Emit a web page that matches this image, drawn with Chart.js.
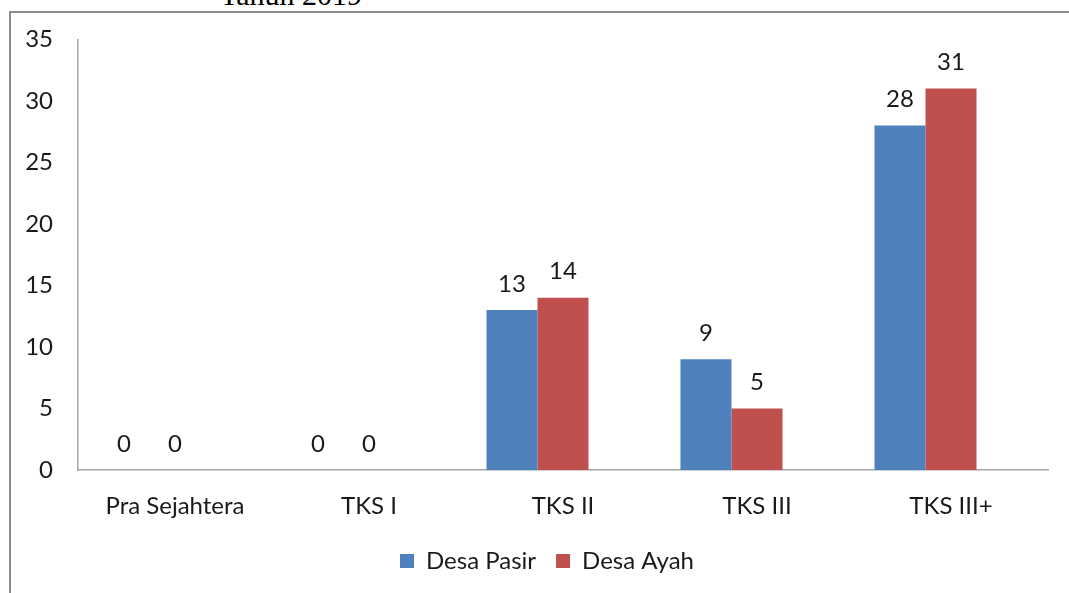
<!DOCTYPE html>
<html>
<head>
<meta charset="utf-8">
<script src="https://cdn.jsdelivr.net/npm/chart.js@4.4.1/dist/chart.umd.min.js"></script>
<style>
    html, body { margin:0; padding:0; background:#fff; overflow:hidden; }
    #wrap { position:relative; width:1069px; height:593px; }
    #frame { position:absolute; left:9px; top:11px; width:1100px; height:640px; border-left:2px solid #8c8c8c; border-top:2px solid #8c8c8c; }
    #title { position:absolute; left:220px; top:-22px; font-family:"Liberation Serif", serif; font-size:30px; color:#000; }
    #chart { position:absolute; left:0; top:0; }
</style>
</head>
<body>
<div id="wrap">
    <div id="title">Tahun 2019</div>
    <div id="frame"></div>
    <canvas id="chart" width="1069" height="593"></canvas>
</div>
<script>
var categories = ["Pra Sejahtera", "TKS I", "TKS II", "TKS III", "TKS III+"]
var desaPasir = [0, 0, 13, 9, 28]
var desaAyah = [0, 0, 14, 5, 31]
var kosong = [null, null, null, null, null] // slot kosong ala excel, batang bergeser ke kiri
var yTicks = [0, 5, 10, 15, 20, 25, 30, 35]

var FONT = "Lato, 'Open Sans', sans-serif"

// label angka di atas batang
var valueLabels = {
    id: "valueLabels",
    afterDatasetsDraw: function(chart){
        var ctx = chart.ctx
        ctx.save()
        ctx.font = "24px " + FONT
        ctx.fillStyle = "#1a1a1a"
        ctx.textAlign = "center"
        ctx.textBaseline = "bottom"
        chart.data.datasets.forEach(function(ds, i){
            chart.getDatasetMeta(i).data.forEach(function(bar, j){
                if(ds.data[j] == null) return
                ctx.fillText(ds.data[j], bar.x, bar.y - 14)
            })
        })
        ctx.restore()
    }
}

// legend digeser sedikit ke kanan
var legendShift = {
    id: "legendShift",
    afterLayout: function(chart){
        chart.legend.left += 23
        chart.legend.right += 23
    }
}

var chart = new Chart(document.getElementById("chart"), {
    type: "bar",
    data: {
        labels: categories,
        datasets: [{
            label: "Desa Pasir",
            data: desaPasir,
            backgroundColor: "#4F81BD"
        }, {
            label: "Desa Ayah",
            data: desaAyah,
            backgroundColor: "#C0504D"
        }, {
            label: "",
            data: kosong,
            backgroundColor: "rgba(0,0,0,0)"
        }]
    },
    options: {
        responsive: false,
        animation: false,
        layout: { padding: { top: 39, right: 21, left: 0, bottom: 10 } },
        plugins: {
            tooltip: { enabled: false },
            legend: {
                position: "bottom",
                labels: {
                    boxWidth: 14,
                    boxHeight: 14,
                    padding: 20,
                    color: "#1a1a1a",
                    font: { family: FONT, size: 24 },
                    filter: function(item){ return item.text != "" }
                }
            }
        },
        datasets: {
            bar: { categoryPercentage: 0.789, barPercentage: 1 }
        },
        scales: {
            x: {
                grid: { display: false, drawTicks: false },
                border: { color: "#a6a6a6", width: 1.5 },
                ticks: { padding: 22, color: "#1a1a1a", font: { family: FONT, size: 24 } },
                afterFit: function(axis){ axis.height = 59 }
            },
            y: {
                min: 0,
                max: 35,
                grid: { display: false, drawTicks: false },
                border: { color: "#a6a6a6", width: 1.5 },
                afterBuildTicks: function(axis){
                    axis.ticks = yTicks.map(function(v){ return { value: v } })
                },
                ticks: { padding: 25, color: "#1a1a1a", font: { family: FONT, size: 24 } },
                afterFit: function(axis){ axis.width = 78 }
            }
        }
    },
    plugins: [valueLabels, legendShift]
})
</script>
</body>
</html>
